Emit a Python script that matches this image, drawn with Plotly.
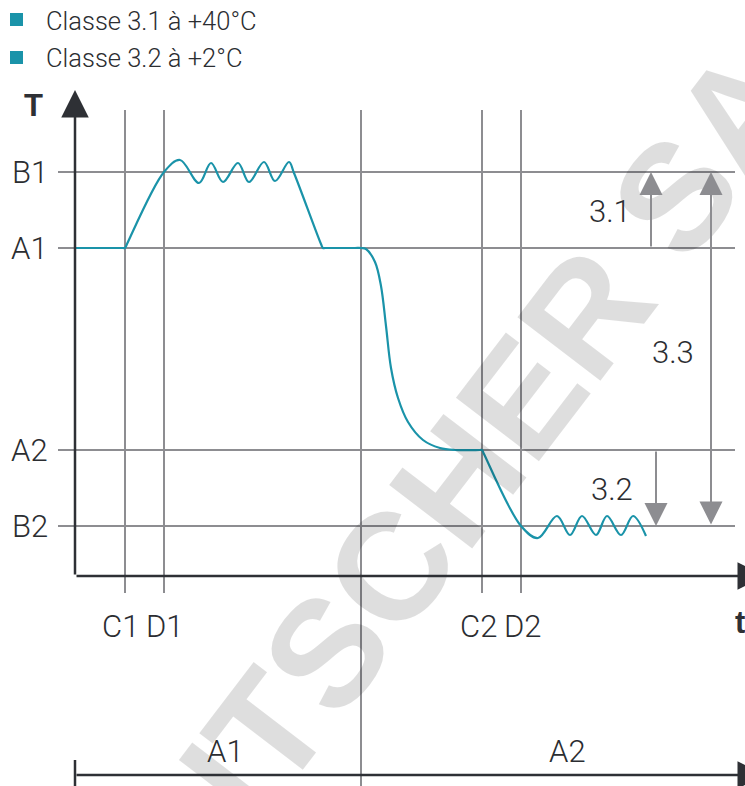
import plotly.graph_objects as go

# ---------------- data (schematic units: 1 unit = 10 px) ----------------
level_names = ["B1", "A1", "A2", "B2"]
level_values = [40.4, 32.8, 12.6, 5.0]

time_names = ["C1", "D1", "C2", "D2"]
time_values = [5.0, 8.9, 40.7, 44.6]
time_label_shift = [-5, 1, -4, 2]

phase_split = 28.6
phase_names = ["A1", "A2"]
phase_label_t = [15.0, 49.2]

curve_t = [0.0, 4.8, 5.0, 5.2, 8.9, 10.5, 12.4, 13.6, 14.8, 16.3, 17.4, 18.9, 20.0,
           21.4, 21.9, 24.6, 24.8, 25.0, 28.0, 28.6, 29.1, 30.0, 30.6, 31.1, 31.6,
           32.3, 33.3, 34.8, 36.5, 38.0, 40.5, 40.7, 40.9, 44.6, 46.3, 48.2,
           49.5, 50.7, 52.1, 53.2, 54.6, 55.8, 57.1]
curve_T = [32.8, 32.8, 32.8, 33.2, 40.4, 41.6, 39.3, 41.3, 39.4, 41.3, 39.4, 41.4, 39.5,
           41.4, 40.3, 33.2, 32.8, 32.8, 32.8, 32.8, 32.7, 31.4, 29.0, 25.0, 20.8,
           17.8, 15.4, 13.6, 12.8, 12.6, 12.6, 12.6, 12.2, 5.0, 3.8, 6.0,
           4.1, 6.0, 4.1, 6.0, 4.1, 6.0, 4.0]

legend_labels = ["Classe 3.1 à +40°C", "Classe 3.2 à +2°C"]

interval_names = ["3.1", "3.3", "3.2"]
interval_t = [57.6, 63.6, 58.1]
interval_from = [32.8, 5.0, 12.6]
interval_to = [40.4, 40.4, 5.0]
interval_label_t = [53.5, 59.8, 53.7]
interval_label_T = [36.5, 22.4, 8.7]

# ---------------- style ----------------
TEAL = "#1a93a9"
GRID = "#8d8d91"
DARK = "#2e3035"
TXT = "#2b2d31"
FONT = "Roboto"

fig = go.Figure()

# grid lines (levels and times)
gx, gy = [], []
for v in level_values:
    gx += [-1.7, 66.0, None]
    gy += [v, v, None]
for v in time_values:
    gx += [v, v, None]
    gy += [46.6, -1.7, None]
gx += [phase_split, phase_split, None]
gy += [46.6, -21.0, None]
fig.add_trace(go.Scatter(x=gx, y=gy, mode="lines", line=dict(color=GRID, width=2),
                         hoverinfo="skip", showlegend=False))

# little start tick of the bottom phase axis
fig.add_trace(go.Scatter(x=[0, 0], y=[-18.4, -21.0], mode="lines",
                         line=dict(color=DARK, width=2.5), hoverinfo="skip", showlegend=False))

# temperature curve
fig.add_trace(go.Scatter(x=curve_t, y=curve_T, mode="lines",
                         line=dict(color=TEAL, width=2.2, shape="spline", smoothing=1.0),
                         hoverinfo="skip", showlegend=False))

# legend squares
fig.add_trace(go.Scatter(x=[-5.85, -5.85], y=[55.65, 51.85], mode="markers",
                         marker=dict(symbol="square", size=13, color=TEAL),
                         hoverinfo="skip", showlegend=False))

ann = []
# watermark
ann.append(dict(x=41.8, y=14.2, xref="x", yref="y", text="<b>ITSCHER SA</b>",
                showarrow=False, textangle=-52.6, xanchor="center", yanchor="middle",
                font=dict(family="Liberation Sans", size=152, color="rgba(0,0,0,0.13)")))

# level labels
for n, v in zip(level_names, level_values):
    ann.append(dict(x=-2.5, y=v, xref="x", yref="y", text=n, showarrow=False,
                    xanchor="right", yanchor="middle",
                    font=dict(family=FONT, size=31, color=TXT, weight=300)))
# time labels
for n, v, s in zip(time_names, time_values, time_label_shift):
    ann.append(dict(x=v, y=-5.0, xref="x", yref="y", text=n, showarrow=False,
                    xanchor="center", yanchor="middle", xshift=s,
                    font=dict(family=FONT, size=31, color=TXT, weight=300)))
# phase labels
for n, v in zip(phase_names, phase_label_t):
    ann.append(dict(x=v, y=-17.5, xref="x", yref="y", text=n, showarrow=False,
                    xanchor="center", yanchor="middle",
                    font=dict(family=FONT, size=31, color=TXT, weight=300)))
# interval arrows and labels
for n, t, a, b, lt, lT in zip(interval_names, interval_t, interval_from, interval_to,
                              interval_label_t, interval_label_T):
    ann.append(dict(x=t, y=b, ax=t, ay=a, xref="x", yref="y", axref="x", ayref="y",
                    text="", showarrow=True, arrowhead=2, arrowsize=2.3, arrowwidth=2,
                    arrowcolor=GRID, standoff=0, startstandoff=0, startarrowhead=2,
                    startarrowsize=2.3,
                    arrowside="end+start" if n == "3.3" else "end"))
    ann.append(dict(x=lt, y=lT, xref="x", yref="y", text=n, showarrow=False,
                    xanchor="center", yanchor="middle",
                    font=dict(family=FONT, size=31, color=TXT, weight=300)))

# axes arrows
axis_arrow = dict(xref="x", yref="y", axref="x", ayref="y", text="", showarrow=True,
                  arrowhead=2, arrowsize=2.2, arrowwidth=2.5, arrowcolor=DARK, standoff=0)
ann.append(dict(x=0, y=48.6, ax=0, ay=0, **axis_arrow))
ann.append(dict(x=69.0, y=0, ax=0, ay=0, **axis_arrow))
ann.append(dict(x=69.0, y=-19.9, ax=0, ay=-19.9, **axis_arrow))

# axis titles
ann.append(dict(x=-4.2, y=47.1, xref="x", yref="y", text="<b>T</b>", showarrow=False,
                xanchor="center", yanchor="middle",
                font=dict(family="Liberation Sans", size=31, color=DARK)))
ann.append(dict(x=66.5, y=-4.6, xref="x", yref="y", text="<b>t</b>", showarrow=False,
                xanchor="center", yanchor="middle",
                font=dict(family="Liberation Sans", size=31, color=DARK)))

# legend texts
for lab, yv in zip(legend_labels, [55.5, 51.8]):
    ann.append(dict(x=-3.1, y=yv, xref="x", yref="y", text=lab, showarrow=False,
                    xanchor="left", yanchor="middle",
                    font=dict(family=FONT, size=25.5, color=TXT, weight=300)))

fig.update_layout(
    width=745, height=786,
    margin=dict(l=0, r=0, t=0, b=0),
    paper_bgcolor="white", plot_bgcolor="white",
    showlegend=False,
    xaxis=dict(range=[-7.5, 67.0], visible=False, fixedrange=True),
    yaxis=dict(range=[-21.0, 57.6], visible=False, fixedrange=True),
    annotations=ann,
)

fig.write_html("out.html", config={"displayModeBar": False},
               post_script="document.body.style.margin='0';")
